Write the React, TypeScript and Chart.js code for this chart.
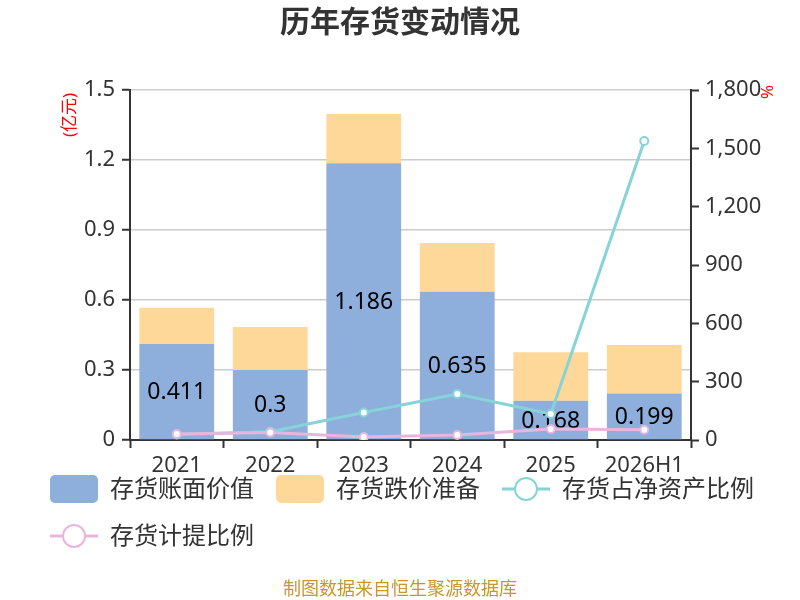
import { useEffect, useRef } from 'react';
import { Chart, registerables } from 'chart.js';

Chart.register(...registerables);

// 数据
const categories = ['2021', '2022', '2023', '2024', '2025', '2026H1'];
const bookValue = [0.411, 0.3, 1.186, 0.635, 0.168, 0.199];
const impairment = [0.156, 0.184, 0.211, 0.209, 0.208, 0.208];
const netAssetRatio = [28, 43, 141, 237, 134, 1538];
const provisionRatio = [31, 39, 15, 26, 57, 53];

const FONT = "'Noto Sans', 'Noto Sans CJK SC', sans-serif";
const BLUE = '#8eaedb';
const ORANGE = '#fed899';
const CYAN = '#86d4d8';
const PINK = '#e8b6dc';

const legendItems = [
  { text: '存货账面价值', color: BLUE, kind: 'box' },
  { text: '存货跌价准备', color: ORANGE, kind: 'box' },
  { text: '存货占净资产比例', color: CYAN, kind: 'line' },
  { text: '存货计提比例', color: PINK, kind: 'line' },
];

const decorPlugin = {
  id: 'decor',
  afterDatasetDraw(chart: any, args: any) {
    // 账面价值标签画在柱子上、折线下
    if (args.index !== 0) return;
    const ctx = chart.ctx;
    const meta = chart.getDatasetMeta(0);
    ctx.save();
    ctx.font = `23px ${FONT}`;
    ctx.fillStyle = '#000';
    ctx.textAlign = 'center';
    ctx.textBaseline = 'middle';
    meta.data.forEach((bar: any, i: number) => {
      const { x, y, base } = bar.getProps(['x', 'y', 'base'], true);
      ctx.fillText(String(bookValue[i]), x, (y + base) / 2 + 1);
    });
    ctx.restore();
  },
  afterDraw(chart: any) {
    const ctx = chart.ctx;
    ctx.save();
    // 标题
    ctx.fillStyle = '#333';
    ctx.font = `bold 30px ${FONT}`;
    ctx.textAlign = 'center';
    ctx.textBaseline = 'middle';
    ctx.fillText('历年存货变动情况', 400, 23);

    // 单位
    ctx.fillStyle = '#f00';
    ctx.font = `17px ${FONT}`;
    ctx.save();
    ctx.translate(70, 115);
    ctx.rotate(-Math.PI / 2);
    ctx.fillText('(亿元)', 0, 0);
    ctx.restore();
    ctx.save();
    ctx.translate(768, 92);
    ctx.rotate(-Math.PI / 2);
    ctx.fillText('%', 0, 0);
    ctx.restore();

    // 图例
    ctx.font = `24px ${FONT}`;
    ctx.textAlign = 'left';
    let x = 50;
    legendItems.forEach((item, i) => {
      if (i === 3) x = 50;
      const cy = i < 3 ? 489 : 536;
      if (item.kind === 'box') {
        ctx.fillStyle = item.color;
        ctx.beginPath();
        ctx.roundRect(x, cy - 14, 48, 28, 5);
        ctx.fill();
      } else {
        ctx.strokeStyle = item.color;
        ctx.lineWidth = 3;
        ctx.beginPath();
        ctx.moveTo(x, cy);
        ctx.lineTo(x + 48, cy);
        ctx.stroke();
        ctx.fillStyle = '#fff';
        ctx.lineWidth = 2;
        ctx.beginPath();
        ctx.arc(x + 24, cy, 11, 0, Math.PI * 2);
        ctx.fill();
        ctx.stroke();
      }
      ctx.fillStyle = '#333';
      ctx.fillText(item.text, x + 60, cy + 1);
      x += 60 + ctx.measureText(item.text).width + 22;
    });

    // 来源
    ctx.fillStyle = '#c9962c';
    ctx.font = `18px ${FONT}`;
    ctx.textAlign = 'center';
    ctx.fillText('制图数据来自恒生聚源数据库', 400, 590);
    ctx.restore();
  },
};

export default function App() {
  const canvasRef = useRef<HTMLCanvasElement>(null);

  useEffect(() => {
    if (!canvasRef.current) return;
    const chart = new Chart(canvasRef.current, {
      type: 'bar',
      data: {
        labels: categories,
        datasets: [
          {
            type: 'bar',
            label: '存货账面价值',
            data: bookValue,
            backgroundColor: BLUE,
            yAxisID: 'y',
            stack: 'inv',
            order: 2,
            categoryPercentage: 1,
            barPercentage: 0.8,
          },
          {
            type: 'bar',
            label: '存货跌价准备',
            data: impairment,
            backgroundColor: ORANGE,
            yAxisID: 'y',
            stack: 'inv',
            order: 3,
            categoryPercentage: 1,
            barPercentage: 0.8,
          },
          {
            type: 'line',
            label: '存货占净资产比例',
            data: netAssetRatio,
            borderColor: CYAN,
            borderWidth: 3,
            pointRadius: 4,
            pointBorderWidth: 2,
            pointBackgroundColor: '#fff',
            pointBorderColor: CYAN,
            yAxisID: 'y1',
            order: 1,
          },
          {
            type: 'line',
            label: '存货计提比例',
            data: provisionRatio,
            borderColor: PINK,
            borderWidth: 3,
            pointRadius: 4,
            pointBorderWidth: 2,
            pointBackgroundColor: '#fff',
            pointBorderColor: PINK,
            yAxisID: 'y1',
            order: 0,
          },
        ],
      } as any,
      options: {
        responsive: false,
        animation: false,
        layout: { padding: { top: 90, bottom: 120, left: 0, right: 0 } },
        plugins: {
          legend: { display: false },
          title: { display: false },
          tooltip: { enabled: false },
        },
        scales: {
          x: {
            stacked: true,
            grid: { drawOnChartArea: false, tickLength: 8, tickColor: '#333', tickWidth: 2, offset: true },
            border: { color: '#333', width: 2 },
            ticks: { color: '#333', font: { family: FONT, size: 22 }, padding: 5, maxRotation: 0, autoSkip: false },
            afterFit: (s: any) => { s.height = 40; },
          },
          y: {
            position: 'left',
            stacked: true,
            min: 0,
            max: 1.5,
            ticks: { stepSize: 0.3, color: '#333', font: { family: FONT, size: 22 }, padding: 7 },
            grid: { color: '#cccccc', lineWidth: 1.5, tickLength: 8, tickColor: '#333', tickWidth: 2 },
            border: { color: '#333', width: 2 },
            afterFit: (s: any) => { s.width = 130; },
          },
          y1: {
            position: 'right',
            stacked: false,
            min: 0,
            max: 1800,
            ticks: { stepSize: 300, color: '#333', font: { family: FONT, size: 22 }, padding: 6 },
            grid: { drawOnChartArea: false, tickLength: 8, tickColor: '#333', tickWidth: 2 },
            border: { color: '#333', width: 2 },
            afterFit: (s: any) => { s.width = 109; },
          },
        },
      } as any,
      plugins: [decorPlugin],
    });
    return () => chart.destroy();
  }, []);

  return (
    <div style={{ position: 'absolute', left: 0, top: 0, width: 800, height: 600, background: '#fff' }}>
      <canvas ref={canvasRef} width={800} height={600} style={{ display: 'block' }} />
    </div>
  );
}
